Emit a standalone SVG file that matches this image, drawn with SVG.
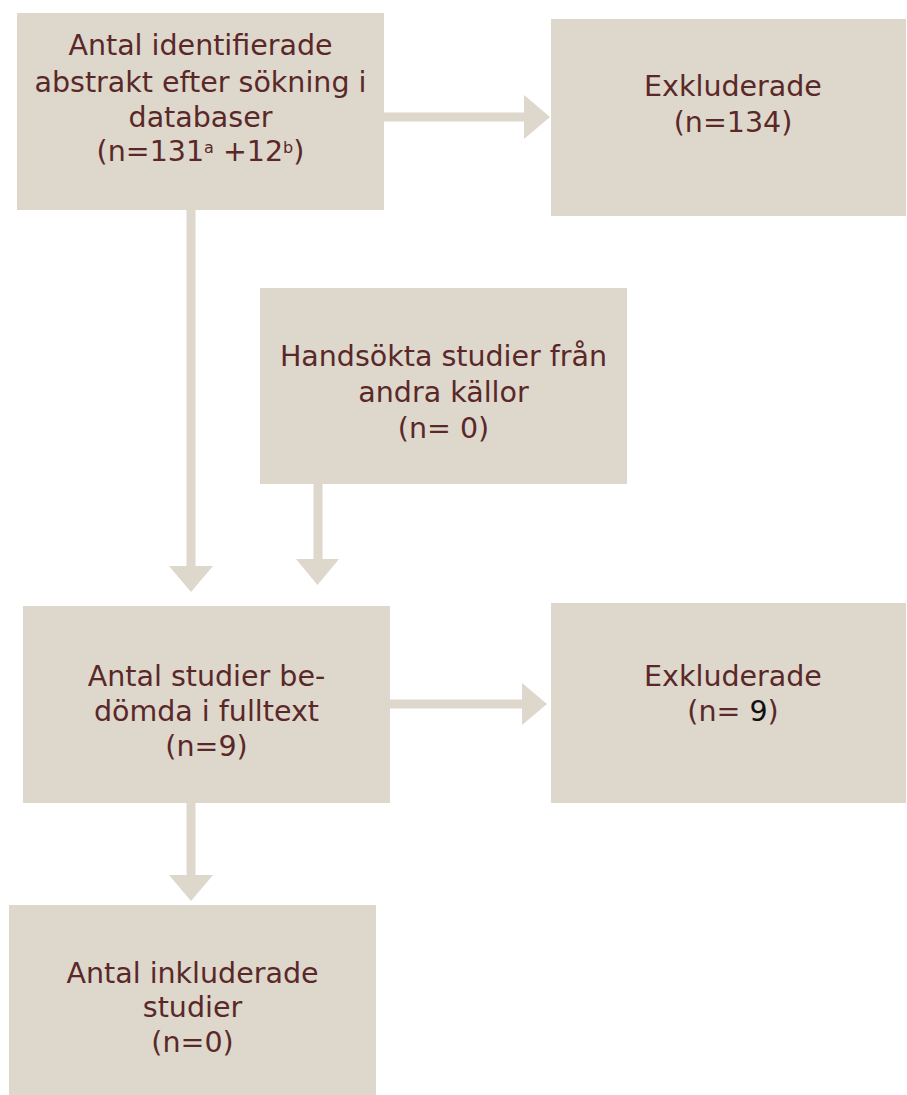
<svg xmlns="http://www.w3.org/2000/svg" width="907" height="1095" viewBox="0 0 907 1095">
<style>
.box{fill:#ddd7cc}
.arr{fill:#ddd7cc}
text{font-family:"DejaVu Sans","Liberation Sans",sans-serif;font-size:28.5px;fill:#5a2828;text-anchor:middle}
.sup{font-size:16px}
</style>
<rect width="907" height="1095" fill="#ffffff"/>
<g id="connectors">
<polygon class="arr" points="384,112.5 524,112.5 524,95 550,117 524,139 524,121.5 384,121.5"/>
<polygon class="arr" points="186.5,210 195.5,210 195.5,566 213,566 191,592 169,566 186.5,566"/>
<polygon class="arr" points="313.5,484 322.5,484 322.5,559 339,559 317.5,585 296,559 313.5,559"/>
<polygon class="arr" points="390,699.5 522,699.5 522,683 547,704 522,725 522,708.5 390,708.5"/>
<polygon class="arr" points="186.5,803 195.5,803 195.5,875 213,875 191,901 169,875 186.5,875"/>
</g>
<g id="n1">
<rect class="box" x="17" y="13" width="367" height="197"/>
<text x="200.5" y="55">Antal identifierade</text>
<text x="200.5" y="92">abstrakt efter sökning i</text>
<text x="200.5" y="127">databaser</text>
<text x="200.5" y="161">(n=131<tspan class="sup" dy="-8">a</tspan><tspan dy="8"> +12</tspan><tspan class="sup" dy="-8">b</tspan><tspan dy="8">)</tspan></text>
</g>
<g id="n2">
<rect class="box" x="551" y="19" width="355" height="197"/>
<text x="733" y="96">Exkluderade</text>
<text x="733" y="132">(n=134)</text>
</g>
<g id="n3">
<rect class="box" x="260" y="288" width="367" height="196"/>
<text x="443.5" y="366">Handsökta studier från</text>
<text x="443.5" y="402">andra källor</text>
<text x="443.5" y="438">(n= 0)</text>
</g>
<g id="n4">
<rect class="box" x="23" y="606" width="367" height="197"/>
<text x="206.5" y="686">Antal studier be-</text>
<text x="206.5" y="721">dömda i fulltext</text>
<text x="206.5" y="756">(n=9)</text>
</g>
<g id="n5">
<rect class="box" x="551" y="603" width="355" height="200"/>
<text x="733" y="686">Exkluderade</text>
<text x="733" y="721">(n= <tspan fill="#111111">9</tspan>)</text>
</g>
<g id="n6">
<rect class="box" x="9" y="905" width="367" height="190"/>
<text x="192.5" y="983">Antal inkluderade</text>
<text x="192.5" y="1017">studier</text>
<text x="192.5" y="1052">(n=0)</text>
</g>
</svg>
